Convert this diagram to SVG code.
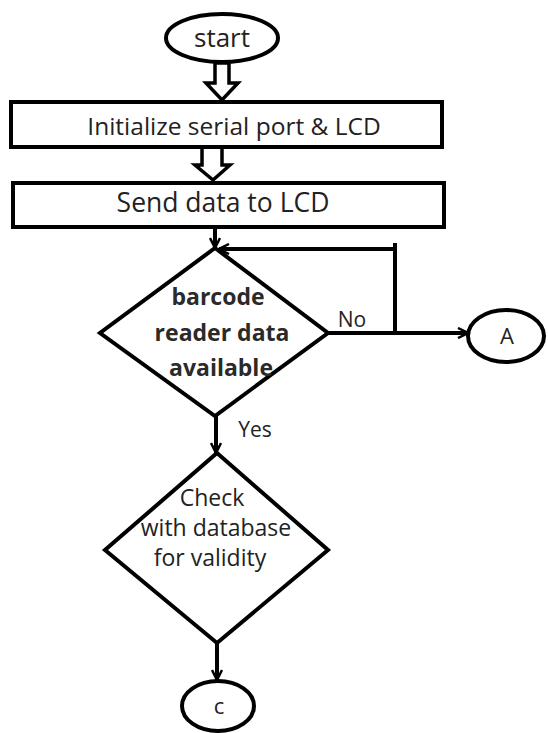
<svg xmlns="http://www.w3.org/2000/svg" width="548" height="733" viewBox="0 0 548 733">
  <defs>
    <style>
      .shape { fill: #fff; stroke: #000; stroke-width: 4; }
      .line { fill: none; stroke: #000; stroke-width: 4; }
      .hollow { fill: #fff; stroke: #000; stroke-width: 3.5; stroke-linejoin: miter; }
      .lbl { font-family: "Open Sans", "Liberation Sans", sans-serif; fill: #222; text-anchor: middle; }
      .bold { font-weight: bold; fill: #2a2a2a; }
    </style>
    <marker id="arrow" viewBox="0 0 12 12" refX="11" refY="6" markerWidth="12" markerHeight="12" markerUnits="userSpaceOnUse" orient="auto">
      <path d="M1,1 L11,6 L1,11" fill="none" stroke="#000" stroke-width="2.5"/>
    </marker>
  </defs>
  <rect width="548" height="733" fill="#fff"/>

  <g id="connectors">
    <!-- block arrow: start -> init -->
    <path class="hollow" d="M215,63 L229,63 L229,83 L238,83 L222,100 L206,83 L215,83 Z"/>
    <!-- block arrow: init -> send -->
    <path class="hollow" d="M202,147 L222,147 L222,165 L230,165 L213,180 L195,165 L202,165 Z"/>
    <!-- send -> decision -->
    <path class="line" d="M215,227 L215,248" marker-end="url(#arrow)"/>
    <!-- no branch -> A -->
    <path class="line" d="M328,333 L468,333" marker-end="url(#arrow)"/>
    <!-- loop back to decision -->
    <path class="line" d="M395,333 L395,243"/>
    <path class="line" d="M395,249 L219,249" marker-end="url(#arrow)"/>
    <!-- yes -> check -->
    <path class="line" d="M216,416 L216,453" marker-end="url(#arrow)"/>
    <!-- check -> C -->
    <path class="line" d="M217,643 L217,680" marker-end="url(#arrow)"/>
    <text class="lbl" x="352" y="327" font-size="21">No</text>
    <text class="lbl" x="255" y="437" font-size="21">Yes</text>
  </g>

  <g id="start">
    <ellipse class="shape" cx="222" cy="38" rx="56" ry="24"/>
    <text class="lbl" x="222" y="47" font-size="26">start</text>
  </g>

  <g id="init">
    <rect class="shape" x="11" y="102" width="431" height="45"/>
    <text class="lbl" x="234" y="135" font-size="24.5">Initialize serial port &amp; LCD</text>
  </g>

  <g id="send">
    <rect class="shape" x="13" y="183" width="431" height="44"/>
    <text class="lbl" x="223" y="212" font-size="26.5">Send data to LCD</text>
  </g>

  <g id="barcode">
    <polygon class="shape" points="215,248 328,333 215,416 100,333"/>
    <text class="lbl bold" x="218" y="305" font-size="23">barcode</text>
    <text class="lbl bold" x="222" y="341" font-size="23">reader data</text>
    <text class="lbl bold" x="221" y="376" font-size="23">available</text>
  </g>

  <g id="A">
    <ellipse class="shape" cx="506" cy="336" rx="38" ry="26"/>
    <text class="lbl" x="507" y="344" font-size="22">A</text>
  </g>

  <g id="check">
    <polygon class="shape" points="217,453 328,550 217,643 105,550"/>
    <text class="lbl" x="212" y="506" font-size="23">Check</text>
    <text class="lbl" x="216" y="536" font-size="23">with database</text>
    <text class="lbl" x="210" y="566" font-size="23">for validity</text>
  </g>

  <g id="C">
    <ellipse class="shape" cx="218" cy="706" rx="36" ry="25"/>
    <text class="lbl" x="219" y="714" font-size="22">c</text>
  </g>
</svg>
